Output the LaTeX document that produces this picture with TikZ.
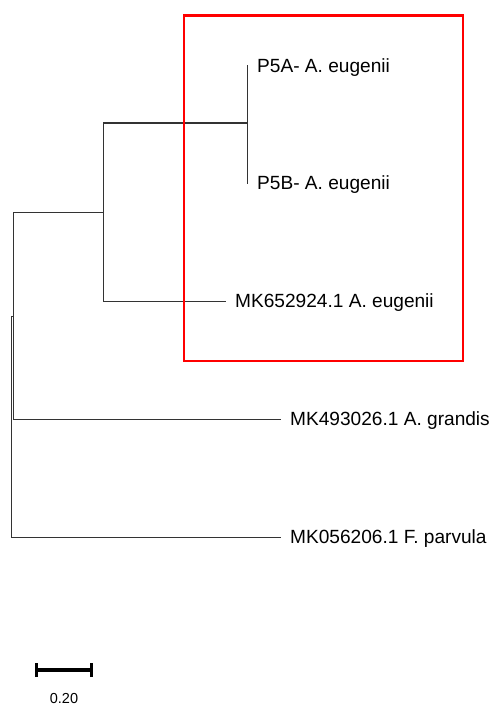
\documentclass[tikz,border=0pt]{standalone}
\usepackage{fontspec}
\setmainfont{Liberation Sans}
\usetikzlibrary{positioning}
\tikzset{
  trbranch/.style={line width=1pt, draw=black!80, line cap=rect},
  trleaf/.style={anchor=west, inner sep=0pt, text height=13.7pt, text depth=0pt, font=\fontsize{19.1}{23}\selectfont},
  trbox/.style={line width=2.6pt, draw=red},
  trscale/.style={line width=4pt, draw=black, line cap=butt},
  trtick/.style={line width=3pt, draw=black, line cap=butt},
  trscalelbl/.style={inner sep=0pt, text height=10.4pt, text depth=0pt, font=\fontsize{14.5}{17}\selectfont},
}
\begin{document}
\begin{tikzpicture}[x=1pt,y=-1pt]
\useasboundingbox (0,0) rectangle (493,706);
\coordinate (lA) at (247,66);
\coordinate (lB) at (247,183);
\coordinate (lC) at (225,301);
\coordinate (lD) at (280,419);
\coordinate (lE) at (280,537);
\coordinate (n1) at (247,123);
\coordinate (n2) at (103,212);
\coordinate (n3) at (13,316);
\coordinate (n4) at (11,426);
\draw[trbranch] (n1) |- (lA);
\draw[trbranch] (n1) |- (lB);
\draw[trbranch] (n2) |- (n1);
\draw[trbranch] (n2) |- (lC);
\draw[trbranch] (n3) |- (n2);
\draw[trbranch] (n3) |- (lD);
\draw[trbranch] (n4) |- (n3);
\draw[trbranch] (n4) |- (lE);
\node[trleaf, right=10pt of lA] (tA) {P5A- A. eugenii};
\node[trleaf, right=10pt of lB] (tB) {P5B- A. eugenii};
\node[trleaf, right=10pt of lC] (tC) {MK652924.1 A. eugenii};
\node[trleaf, right=10pt of lD] (tD) {MK493026.1 A. grandis};
\node[trleaf, right=10pt of lE] (tE) {MK056206.1 F. parvula};
\draw[trbox] (184,15.5) rectangle (463,361);
\coordinate (sbL) at (36.5,670);
\coordinate (sbR) at (91.5,670);
\coordinate (sbM) at (64,670);
\draw[trscale] (sbL) -- (sbR);
\draw[trtick] ([yshift=-7pt]sbL) -- ([yshift=7pt]sbL);
\draw[trtick] ([yshift=-7pt]sbR) -- ([yshift=7pt]sbR);
\node[trscalelbl, below=23pt of sbM] (sblbl) {0.20};
\end{tikzpicture}
\end{document}
